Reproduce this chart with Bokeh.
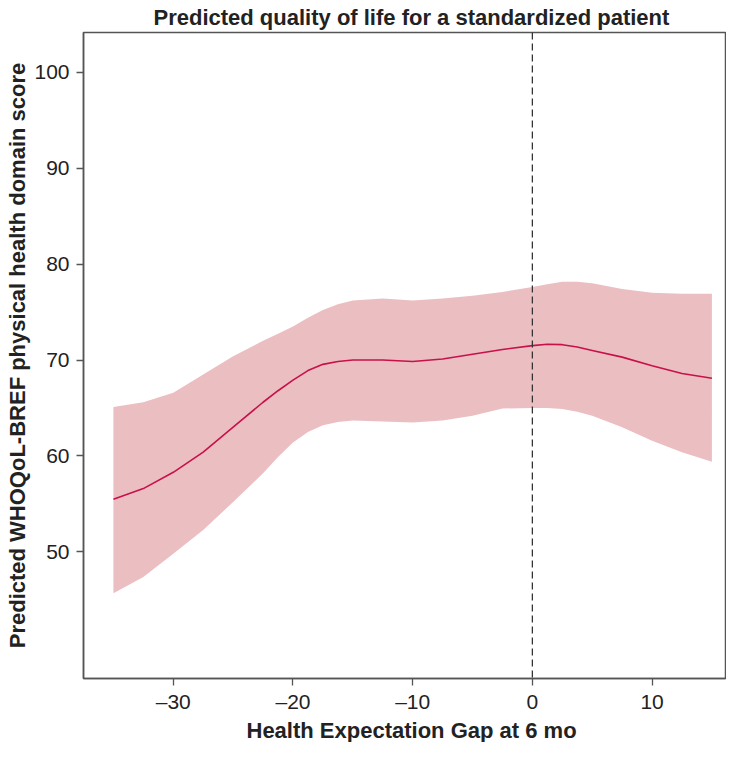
from bokeh.plotting import figure
from bokeh.models import Range1d, FixedTicker, Span, Title
from bokeh.embed import file_html
from bokeh.resources import INLINE

# Health expectation gap at 6 months (x) and predicted score with 95% band
gap = [-35, -32.5, -30, -27.5, -25, -22.5, -21.25, -20, -18.75, -17.5,
       -16.25, -15, -12.5, -10, -7.5, -5, -2.5, 0, 1.25, 2.5, 3.75, 5,
       7.5, 10, 12.5, 15]
fit = [55.5, 56.6, 58.3, 60.4, 63.0, 65.6, 66.8, 67.9, 68.9, 69.55,
       69.85, 70.0, 70.0, 69.85, 70.1, 70.6, 71.1, 71.5, 71.65, 71.6, 71.35,
       71.0, 70.3, 69.4, 68.6, 68.1]
upper = [65.1, 65.6, 66.6, 68.5, 70.4, 72.0, 72.75, 73.5, 74.4, 75.2,
         75.8, 76.2, 76.4, 76.2, 76.4, 76.7, 77.1, 77.6, 77.9, 78.15, 78.15,
         78.0, 77.4, 77.0, 76.9, 76.9]
lower = [45.7, 47.4, 49.8, 52.3, 55.2, 58.2, 59.9, 61.4, 62.5, 63.2,
         63.55, 63.7, 63.6, 63.5, 63.7, 64.2, 64.95, 65.0, 65.0, 64.9, 64.6,
         64.2, 63.0, 61.6, 60.4, 59.4]

x_ticks = [-30, -20, -10, 0, 10]
x_tick_labels = ["\u201330", "\u201320", "\u201310", "0", "10"]
y_ticks = [50, 60, 70, 80, 90, 100]

title_text = "Predicted quality of life for a standardized patient"
x_title = "Health Expectation Gap at 6 mo"
y_title = "Predicted WHOQoL-BREF physical health domain score"

FONT = "Liberation Sans"
AXIS_COLOR = "#555555"
TEXT_COLOR = "#222222"

W, H = 726, 742
LEFT, RIGHT, TOP, BOTTOM = 83, 1, 31, 63      # borders around the frame, px
XPX = 11.97                                     # px per x unit
YPX = 9.626                                     # px per y unit
x_lo = -37.5
x_hi = x_lo + (W - LEFT - RIGHT) / XPX
y_hi = 104.13
y_lo = y_hi - (H - TOP - BOTTOM) / YPX

p = figure(width=W, height=H, output_backend="svg", toolbar_location=None,
           x_range=Range1d(x_lo, x_hi), y_range=Range1d(y_lo, y_hi),
           min_border_left=LEFT, min_border_right=RIGHT, min_border_top=TOP,
           min_border_bottom=BOTTOM)
p.grid.visible = False
p.outline_line_color = AXIS_COLOR
p.outline_line_width = 1.5
p.background_fill_color = "white"
p.border_fill_color = "white"

p.varea(x=gap, y1=lower, y2=upper, fill_color="#EBBEC2", fill_alpha=1.0)
p.line(gap, fit, line_color="#C8104A", line_width=1.6, line_join="round")
p.add_layout(Span(location=0, dimension="height", line_color="#333333",
                  line_dash="7 4", line_width=1.3))

for ax in (p.xaxis[0], p.yaxis[0]):
    ax.axis_line_color = AXIS_COLOR
    ax.axis_line_width = 1.5
    ax.major_tick_line_color = AXIS_COLOR
    ax.major_tick_line_width = 1.3
    ax.major_tick_out = 7
    ax.major_tick_in = 0
    ax.minor_tick_line_color = None
    ax.major_label_text_font = FONT
    ax.major_label_text_font_size = "21px"
    ax.major_label_text_color = TEXT_COLOR

p.xaxis.ticker = FixedTicker(ticks=x_ticks)
p.xaxis.major_label_overrides = {t: l for t, l in zip(x_ticks, x_tick_labels)}
p.xaxis.major_label_standoff = 4
p.yaxis.ticker = FixedTicker(ticks=y_ticks)
p.yaxis.major_label_standoff = 7

title_kw = dict(text_font=FONT, text_font_style="bold", text_font_size="22px",
                text_color=TEXT_COLOR)
p.add_layout(Title(text=title_text, standoff=5, align="left", offset=70,
                   **title_kw), "above")
p.add_layout(Title(text=x_title, standoff=0, align="left", offset=163,
                   **title_kw), "below")
p.add_layout(Title(text=y_title, standoff=3, align="center", **title_kw),
             "left")

open("out.html", "w").write(file_html(p, INLINE))
